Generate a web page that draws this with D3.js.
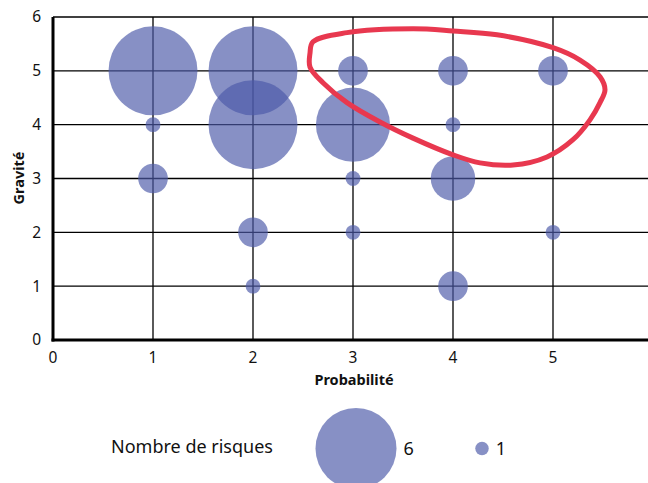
<!DOCTYPE html>
<html><head><meta charset="utf-8">
<script src="https://cdn.jsdelivr.net/npm/d3@7"></script>
<style>body{margin:0;background:#fff}svg{display:block}text{font-family:"Noto Sans",sans-serif}</style>
</head><body>
<script>
// Data
const probabilite = [1,2,2,3,1,1,2,2,3,3,3,4,4,4,4,5,5];
const gravite     = [5,5,4,4,4,3,2,1,5,3,2,5,4,3,1,5,2];
const nombre      = [6,6,6,5,1,2,2,1,2,1,1,2,1,3,2,2,1];
const xTicks = [0,1,2,3,4,5];
const yTicks = [0,1,2,3,4,5,6];
const legendValues = [6,1];
const zoneX = [2.60,2.94,3.60,4.00,4.44,5.00,5.27,5.47,5.52,5.47,5.37,5.20,4.94,4.60,4.27,4.00,3.60,3.27,2.94,2.70,2.57,2.57];
const zoneY = [5.54,5.71,5.78,5.74,5.67,5.43,5.20,4.89,4.65,4.41,4.09,3.72,3.40,3.25,3.29,3.44,3.75,4.05,4.41,4.78,5.07,5.33];

const W=648,H=483;
const svg=d3.select("body").append("svg").attr("width",W).attr("height",H);
const x=d3.scaleLinear().domain([0,5.95]).range([53,648]);
const y=d3.scaleLinear().domain([0,6]).range([340,17]);
const r=d3.scaleLinear().domain([0,6]).range([0,44.5]);
const rLeg=d3.scaleLinear().domain([0,6]).range([0,40.5]);
const fill="#4C59A8";

// grid
svg.append("g").selectAll("line").data(yTicks.filter(d=>d>0)).join("line")
  .attr("x1",x(0)).attr("x2",W).attr("y1",d=>y(d)).attr("y2",d=>y(d))
  .attr("stroke","#000").attr("stroke-width",1.3);
svg.append("g").selectAll("line").data(xTicks.filter(d=>d>0)).join("line")
  .attr("x1",d=>x(d)).attr("x2",d=>x(d)).attr("y1",y(6)).attr("y2",y(0))
  .attr("stroke","#000").attr("stroke-width",1.3);

// axes
svg.append("line").attr("x1",x(0)).attr("x2",x(0)).attr("y1",y(6)).attr("y2",y(0)+1.5)
  .attr("stroke","#000").attr("stroke-width",3);
svg.append("line").attr("x1",x(0)-1.5).attr("x2",W).attr("y1",y(0)).attr("y2",y(0))
  .attr("stroke","#000").attr("stroke-width",3);

svg.append("g").selectAll("text").data(yTicks).join("text")
  .attr("x",41).attr("y",d=>y(d)).attr("dy","0.35em").attr("text-anchor","end")
  .attr("font-size",15.5).attr("fill","#111").text(d=>d);
svg.append("g").selectAll("text").data(xTicks).join("text")
  .attr("x",d=>x(d)).attr("y",358).attr("dy","0.35em").attr("text-anchor","middle")
  .attr("font-size",15.5).attr("fill","#111").text(d=>d);

svg.append("text").attr("x",354).attr("y",385).attr("text-anchor","middle")
  .attr("font-size",14.5).attr("font-weight","bold").attr("fill","#111").text("Probabilité");
svg.append("text").attr("transform","translate(24,178) rotate(-90)").attr("text-anchor","middle")
  .attr("font-size",14.5).attr("font-weight","bold").attr("fill","#111").text("Gravité");

// bubbles
const data=probabilite.map((p,i)=>({p,g:gravite[i],n:nombre[i]}));
svg.append("g").selectAll("circle").data(data).join("circle")
  .attr("cx",d=>x(d.p)).attr("cy",d=>y(d.g)).attr("r",d=>r(d.n))
  .attr("fill",fill).attr("fill-opacity",0.67);

// red zone
const zone=zoneX.map((v,i)=>[x(v),y(zoneY[i])]);
svg.append("path").attr("d",d3.line().curve(d3.curveCatmullRomClosed)(zone))
  .attr("fill","none").attr("stroke","#E8384F").attr("stroke-width",5);

// legend
svg.append("text").attr("x",111).attr("y",453)
  .attr("font-size",18).attr("fill","#111").text("Nombre de risques");
const lx=[356,482];
const lg=svg.append("g").selectAll("g").data(legendValues).join("g");
lg.append("circle").attr("cx",(d,i)=>lx[i]).attr("cy",448.5).attr("r",d=>rLeg(d))
  .attr("fill",fill).attr("fill-opacity",0.67);
lg.append("text").attr("x",(d,i)=>lx[i]+rLeg(d)+7).attr("y",455)
  .attr("font-size",18).attr("fill","#111").text(d=>d);
</script>
</body></html>
